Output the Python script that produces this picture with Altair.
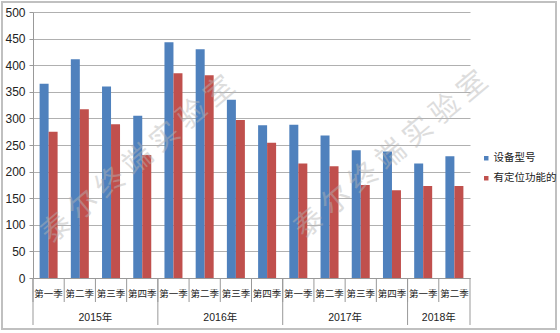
import altair as alt
import pandas as pd

years = ["2015年"] * 4 + ["2016年"] * 4 + ["2017年"] * 4 + ["2018年"] * 2
quarters = ["第一季", "第二季", "第三季", "第四季"] * 3 + ["第一季", "第二季"]
series_names = ["设备型号", "有定位功能的"]
models = [365, 411, 360, 305, 443, 430, 335, 287, 288, 268, 240, 238, 215, 229]
located = [275, 317, 289, 231, 385, 381, 297, 254, 215, 210, 175, 165, 173, 173]
colors = ["#4F81BD", "#C0504D"]
watermark = "泰 尔 终 端 实 验 室"

FONT = "Liberation Sans, Noto Sans CJK SC"
keys = [f"{y}|{q}" for y, q in zip(years, quarters)]

rows = []
for k, a, b in zip(keys, models, located):
    rows.append({"key": k, "series": series_names[0], "value": a})
    rows.append({"key": k, "series": series_names[1], "value": b})
bars_df = pd.DataFrame(rows)

year_list = list(dict.fromkeys(years))
year_rows = []
for yr in year_list:
    idx = [i for i, y in enumerate(years) if y == yr]
    year_rows.append({"key": keys[idx[len(idx) // 2]], "year": yr, "first": keys[idx[0]]})
year_df = pd.DataFrame(year_rows)
first_df = pd.DataFrame({"key": [r["first"] for r in year_rows]})
quarter_df = pd.DataFrame({"key": keys})
last_df = pd.DataFrame({"key": [keys[-1]]})
one_df = pd.DataFrame({"a": [0]})

W, H = 437, 266
xscale = alt.Scale(domain=keys, paddingInner=0, paddingOuter=0)
xaxis = alt.Axis(
    title=None, labelAngle=0, ticks=False, labelPadding=10,
    labelExpr="split(datum.value, '|')[1]", labelFontSize=9.5,
    labelColor="#222", labelFont=FONT, domainColor="#999", grid=False,
    labelOverlap=False, labelLimit=0,
)

def xenc(band=None):
    kw = dict(scale=xscale, sort=keys, axis=xaxis)
    if band is not None:
        kw["bandPosition"] = band
    return alt.X("key:N", **kw)

bars = alt.Chart(bars_df).mark_bar().encode(
    x=xenc(),
    xOffset=alt.XOffset("series:N", sort=series_names,
                        scale=alt.Scale(domain=series_names, paddingInner=0, paddingOuter=0.734)),
    y=alt.Y("value:Q", scale=alt.Scale(domain=[0, 500]),
            axis=alt.Axis(title=None, values=list(range(0, 501, 50)), labelFontSize=12,
                          labelColor="#222", labelFont=FONT, tickSize=4, tickColor="#999",
                          domainColor="#999", gridColor="#b0b0b0", labelPadding=4)),
    color=alt.Color("series:N", scale=alt.Scale(domain=series_names, range=colors),
                    legend=alt.Legend(title=None, orient="none", legendX=448, legendY=141,
                                      padding=0, symbolType="square", symbolSize=20,
                                      symbolStrokeWidth=0, labelFontSize=10.5, labelFont=FONT,
                                      labelColor="#222", rowPadding=9, symbolOffset=0,
                                      labelOffset=2, labelLimit=0)),
)

qdiv = alt.Chart(quarter_df).mark_rule(color="#999", strokeWidth=1).encode(
    x=xenc(band=0), y=alt.value(H), y2=alt.value(H + 24))
ydiv = alt.Chart(first_df).mark_rule(color="#999", strokeWidth=1).encode(
    x=xenc(band=0), y=alt.value(H), y2=alt.value(H + 47))
enddiv = alt.Chart(last_df).mark_rule(color="#999", strokeWidth=1).encode(
    x=xenc(band=1), y=alt.value(H), y2=alt.value(H + 47))

ylabels = alt.Chart(year_df).mark_text(fontSize=10.5, font=FONT, color="#222", baseline="middle").encode(
    x=xenc(band=0), y=alt.value(H + 40), text="year:N")

frame = alt.Chart(one_df).mark_rect(fill=None, stroke="#c0c0c0", strokeWidth=2).encode(
    x=alt.value(-31), x2=alt.value(523), y=alt.value(-10), y2=alt.value(317))

wm_df = pd.DataFrame({"t": [watermark, watermark], "px": [105, 358], "py": [148, 143]})
wm = alt.Chart(wm_df).mark_text(fontSize=29, font="Noto Sans CJK SC", color="#b5b5b5",
                                opacity=0.45, angle=320).encode(
    x=alt.X("px:Q", scale=None), y=alt.Y("py:Q", scale=None), text="t:N")

chart = alt.layer(bars, qdiv, ydiv, enddiv, ylabels, wm, frame).properties(
    width=W, height=H,
    autosize=alt.AutoSizeParams(type="none"),
    padding={"left": 33, "top": 12, "right": 90, "bottom": 55},
    background="white",
).configure_view(stroke=None)

chart.save("out.html", embed_options={"renderer": "svg", "actions": False})
